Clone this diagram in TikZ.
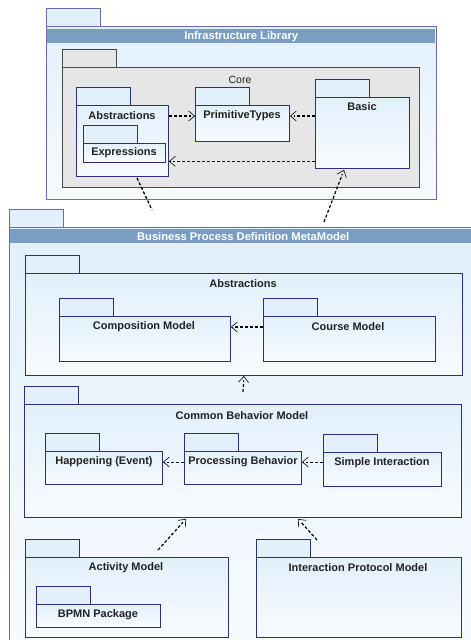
\documentclass[tikz,border=0pt]{standalone}
\usepackage{fontspec}
\setmainfont{Liberation Sans}
\usetikzlibrary{arrows.meta,calc}
\definecolor{tabfill}{HTML}{E1F0FB}
\definecolor{bodytop}{HTML}{E2F0FC}
\definecolor{bodybot}{HTML}{F8FBFE}
\definecolor{innerline}{HTML}{2E2E7C}
\definecolor{outerline}{HTML}{6A6AAE}
\definecolor{hdrfill}{HTML}{7B9DC2}
\definecolor{corefill}{HTML}{E6E6E6}
\definecolor{coreline}{HTML}{4A4A4A}
\definecolor{txt}{HTML}{222222}
\newcommand\pkgbx[6][]{%
  \node[tabbox,#1] (#2tab) at (#3,#4-18) {};
  \node[pkgbody,#1,minimum width=#5pt,minimum height=#6pt] (#2) at (#3,#4) {};
}
% dependency: dashed shaft that stops behind an open V tip
\newcommand\depar[3][dep]{%
  \draw[#1,shorten >=4.5pt] #2 -- #3;
  \draw[tip] ($#3!1pt!#2$) -- #3;
}
\begin{document}
\begin{tikzpicture}[x=1pt,y=-1pt,
  tabbox/.style={draw=innerline,fill=tabfill,line width=0.9pt,anchor=north west,inner sep=0pt,minimum width=54pt,minimum height=18pt},
  pkgbody/.style={draw=innerline,line width=0.9pt,top color=bodytop,bottom color=bodybot,anchor=north west,inner sep=0pt},
  outer/.style={draw=outerline},
  coresty/.style={draw=coreline,fill=corefill,top color=corefill,bottom color=corefill},
  hdr/.style={fill=hdrfill,anchor=north west,inner sep=0pt,minimum height=14pt,text=white,font=\bfseries\fontsize{11.2}{12}\selectfont},
  lbl/.style={inner sep=0pt,text=txt,font=\bfseries\fontsize{11}{12}\selectfont},
  tip/.style={line width=0.6pt,-{Straight Barb[length=6pt,width=10pt,line width=0.6pt]}},
  dep/.style={line width=1.2pt,dash pattern=on 3pt off 2pt},
  depthin/.style={line width=0.7pt,dash pattern=on 3pt off 2pt},
  depline/.style={line width=1.3pt,dash pattern=on 3pt off 2pt}]
\useasboundingbox (0,0) rectangle (471,640);
\clip (0,0) rectangle (471,640);
\fill[white] (0,0) rectangle (471,640);
% Infrastructure Library
\pkgbx[outer]{infra}{46}{26}{390}{173}
\node[hdr,minimum width=388pt] (infraH) at (47,29) {Infrastructure Library};
\pkgbx[coresty]{core}{62}{67}{357}{120}
\node[lbl,font=\fontsize{10.5}{12}\selectfont] (coreL) at (240,80) {Core};
\pkgbx{absI}{76}{105}{92}{71}
\node[lbl] (absIL) at (122,116) {Abstractions};
\pkgbx{expr}{83}{143}{82}{19}
\node[lbl] (exprL) at (124,153) {Expressions};
\pkgbx{prim}{195}{105}{94}{36}
\node[lbl] (primL) at (242,116) {PrimitiveTypes};
\pkgbx{basic}{315}{97}{94}{71}
\node[lbl] (basicL) at (362,107) {Basic};
\depar{(absI.east |- primL)}{(prim.west |- primL)}
\depar{(basic.west |- primL)}{(prim.east |- primL)}
\coordinate (bsrc) at ($(basic.west |- exprL.south)+(0,3)$);
\coordinate (bdst) at ($(absI.east |- exprL.south)+(0,3)$);
\depar{(bsrc)}{(bdst)}
% BPDM
\pkgbx[outer]{bpdm}{9}{227}{480}{430}
\node[hdr,minimum width=466pt] (bpdmH) at (10,229) {Business Process Definition MetaModel};
\coordinate (d1) at (152,210);
\coordinate (d2) at (324,222);
\draw[depline] ($(absI.south west)+(61,1)$) -- (d1);
\coordinate (basicIn) at ($(basic.south west)+(29,1)$);
\depar{(d2)}{(basicIn)}
\pkgbx{absB}{25}{273}{437}{102}
\node[lbl] (absBL) at (243,284) {Abstractions};
\pkgbx{comp}{59}{316}{171}{45}
\node[lbl] (compL) at (144,327) {Composition Model};
\pkgbx{course}{263}{316}{172}{45}
\node[lbl] (courseL) at (348,327) {Course Model};
\depar{(course.west |- compL)}{(comp.east |- compL)}
\pkgbx{cbm}{24}{404}{437}{113}
\node[lbl] (cbmL) at (242,416) {Common Behavior Model};
\coordinate (d3) at (243,392);
\depar{(d3)}{(absB.south)}
\pkgbx{hap}{45}{451}{117}{33}
\node[lbl] (hapL) at (104,462) {Happening (Event)};
\pkgbx{proc}{184}{451}{117}{33}
\node[lbl] (procL) at (243,462) {Processing Behavior};
\pkgbx{simp}{323}{452}{118}{34}
\node[lbl] (simpL) at (382,463) {Simple Interaction};
\depar[depthin]{(proc.west |- procL)}{(hap.east |- procL)}
\depar[depthin]{(simp.west |- procL)}{(proc.east |- procL)}
\pkgbx{act}{25}{557}{203}{80}
\node[lbl] (actL) at (126,568) {Activity Model};
\pkgbx{bpmn}{36}{604}{124}{23}
\node[lbl] (bpmnL) at (98,615) {BPMN Package};
\pkgbx{ipm}{256}{557}{205}{80}
\node[lbl] (ipmL) at (358,568) {Interaction Protocol Model};
\coordinate (d4) at (158,550);
\coordinate (d5) at (317,540);
\coordinate (cbmIn1) at ($(cbm.south west)+(162,1)$);
\coordinate (cbmIn2) at ($(cbm.south west)+(274,1)$);
\depar{(d4)}{(cbmIn1)}
\depar{(d5)}{(cbmIn2)}
\end{tikzpicture}
\end{document}
